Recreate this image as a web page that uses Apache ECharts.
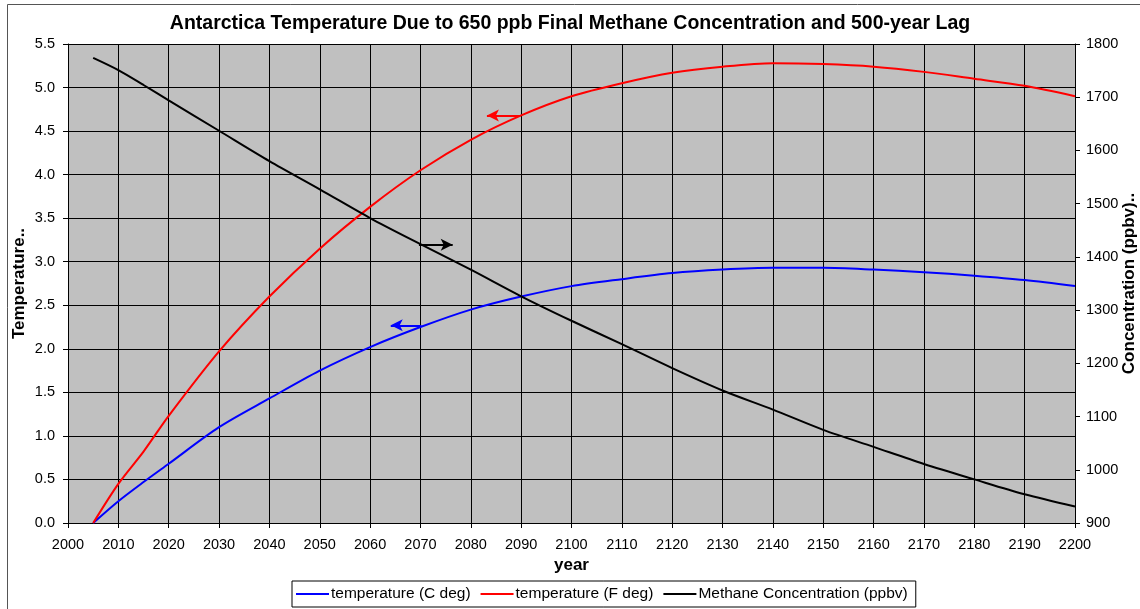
<!DOCTYPE html>
<html>
<head>
<meta charset="utf-8">
<script src="https://cdn.jsdelivr.net/npm/echarts@6/dist/echarts.min.js"></script>
<style>
  html, body { margin: 0; padding: 0; background: #fff; }
  #chart { width: 1140px; height: 609px; }
</style>
</head>
<body>
<div id="chart"></div>
<script>
  // years
  const years = [2005, 2010, 2015, 2020, 2030, 2040, 2050, 2060, 2070, 2080, 2090, 2100,
    2110, 2120, 2130, 2140, 2150, 2160, 2170, 2180, 2190, 2200]
  // temperature in C
  const tempC = [0, 0.25, 0.47, 0.68, 1.1, 1.43, 1.75, 2.02, 2.25, 2.45, 2.6, 2.72,
    2.8, 2.87, 2.91, 2.93, 2.93, 2.91, 2.88, 2.84, 2.79, 2.72]
  // temperature in F
  const tempF = [0, 0.45, 0.82, 1.23, 1.97, 2.6, 3.15, 3.63, 4.05, 4.4, 4.68, 4.9,
    5.05, 5.17, 5.24, 5.28, 5.27, 5.24, 5.18, 5.1, 5.02, 4.9]
  // methane concentration (ppbv)
  const methane = [1774, 1751, 1723, 1694, 1637, 1580, 1527, 1473, 1424, 1376, 1326, 1280,
    1236, 1191, 1149, 1113, 1075, 1043, 1011, 982, 954, 931]

  const seriesNames = ['temperature (C deg)', 'temperature (F deg)', 'Methane Concentration (ppbv)']

  const pairs = (vals) => years.map((y, i) => [y, vals[i]])
  const font = 'Liberation Sans, Arial, sans-serif'

  const chart = echarts.init(document.getElementById('chart'))

  // little arrows pointing at each line's axis
  const arrow = (from, to, color) => ({
    silent: true,
    symbol: ['none', 'arrow'],
    symbolSize: [9, 12],
    label: { show: false },
    lineStyle: { color: color, width: 2, type: 'solid' },
    data: [[{ coord: from }, { coord: to }]]
  })

  const option = {
    animation: false,
    backgroundColor: '#fff',
    textStyle: { fontFamily: font },
    title: {
      text: 'Antarctica Temperature Due to 650 ppb Final Methane Concentration and 500-year Lag',
      left: 'center',
      top: 9,
      textStyle: { fontSize: 19.5, fontWeight: 'bold', color: '#000', fontFamily: font }
    },
    graphic: [{
      type: 'rect',
      shape: { x: 7.5, y: 4.5, width: 1200, height: 700 },
      style: { fill: 'none', stroke: '#555', lineWidth: 1 },
      silent: true
    }],
    legend: {
      data: seriesNames,
      bottom: 2,
      left: 292,
      orient: 'horizontal',
      borderColor: '#000',
      borderWidth: 1,
      padding: [5, 8, 5, 4],
      itemGap: 10,
      itemWidth: 33,
      itemHeight: 2,
      icon: 'rect',
      textStyle: { fontSize: 15.5, color: '#000', fontFamily: font, padding: [0, 0, 0, -3] }
    },
    grid: {
      left: 68,
      right: 65,
      top: 44,
      bottom: 86,
      outerBoundsMode: 'none',
      containLabel: false,
      show: true,
      backgroundColor: '#c0c0c0',
      borderWidth: 0
    },
    xAxis: {
      type: 'value',
      min: 2000,
      max: 2200,
      interval: 10,
      name: 'year',
      nameLocation: 'middle',
      nameGap: 34,
      nameMoveOverlap: false,
      nameTextStyle: { fontWeight: 'bold', fontSize: 17, color: '#000' },
      axisLine: { show: true, lineStyle: { color: '#000' } },
      axisTick: { show: true, length: 5, lineStyle: { color: '#000' } },
      axisLabel: { fontSize: 14.5, color: '#000', margin: 14, formatter: (v) => String(v) },
      splitLine: { show: true, lineStyle: { color: '#000', width: 1 } }
    },
    yAxis: [{
      type: 'value',
      min: 0,
      max: 5.5,
      interval: 0.5,
      name: 'Temperature..',
      nameLocation: 'middle',
      nameRotate: 90,
      nameGap: 40,
      nameMoveOverlap: false,
      nameTextStyle: { fontWeight: 'bold', fontSize: 17, color: '#000' },
      axisLine: { show: true, lineStyle: { color: '#000' } },
      axisTick: { show: true, length: 5, lineStyle: { color: '#000' } },
      axisLabel: { fontSize: 14.5, color: '#000', margin: 13, formatter: (v) => v.toFixed(1) },
      splitLine: { show: true, lineStyle: { color: '#000', width: 1 } }
    }, {
      type: 'value',
      min: 900,
      max: 1800,
      interval: 100,
      position: 'right',
      name: 'Concentration (ppbv)..',
      nameLocation: 'middle',
      nameRotate: 90,
      nameGap: 46,
      nameMoveOverlap: false,
      nameTextStyle: { fontWeight: 'bold', fontSize: 17, color: '#000' },
      axisLine: { show: true, lineStyle: { color: '#000' } },
      axisTick: { show: true, length: 5, lineStyle: { color: '#000' } },
      axisLabel: { fontSize: 14.5, color: '#000', margin: 11, formatter: (v) => String(v) },
      splitLine: { show: false }
    }],
    series: [{
      name: seriesNames[0],
      type: 'line',
      yAxisIndex: 0,
      data: pairs(tempC),
      smooth: 0.3,
      showSymbol: false,
      lineStyle: { color: '#0000ff', width: 2 },
      itemStyle: { color: '#0000ff' },
      markLine: arrow([2070.2, 2.27], [2064.1, 2.27], '#0000ff')
    }, {
      name: seriesNames[1],
      type: 'line',
      yAxisIndex: 0,
      data: pairs(tempF),
      smooth: 0.3,
      showSymbol: false,
      lineStyle: { color: '#ff0000', width: 2 },
      itemStyle: { color: '#ff0000' },
      markLine: arrow([2089.8, 4.68], [2083.2, 4.68], '#ff0000')
    }, {
      name: seriesNames[2],
      type: 'line',
      yAxisIndex: 1,
      data: pairs(methane),
      smooth: 0.3,
      showSymbol: false,
      lineStyle: { color: '#000', width: 2 },
      itemStyle: { color: '#000' },
      markLine: arrow([2069.7, 1423], [2076.4, 1423], '#000')
    }]
  }

  chart.setOption(option)
</script>
</body>
</html>
